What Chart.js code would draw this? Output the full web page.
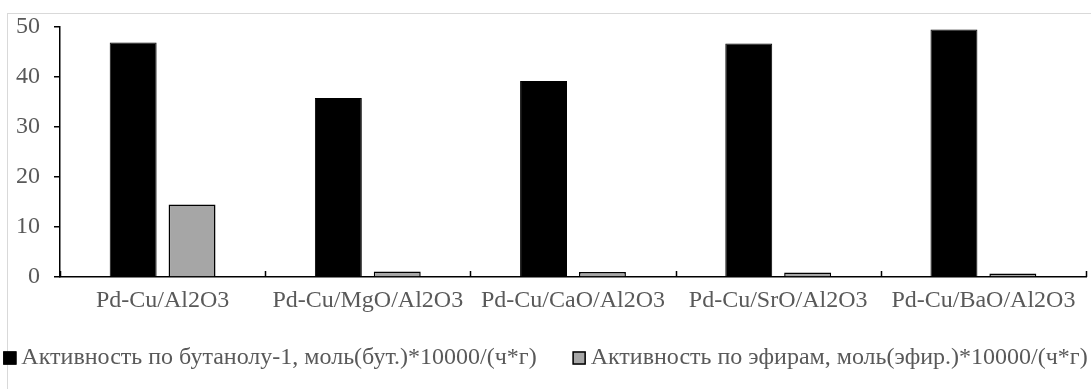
<!DOCTYPE html>
<html>
<head>
<meta charset="utf-8">
<script src="https://cdn.jsdelivr.net/npm/chart.js@4"></script>
<style>
    html, body { margin: 0; padding: 0; background: #fff; }
    #wrap { position: relative; width: 1091px; height: 389px; overflow: hidden; }
    #frame { position: absolute; left: 7px; top: 13px; width: 1100px; height: 400px; border: 1px solid #d9d9d9; box-sizing: border-box; }
    #chart { position: absolute; left: 0; top: 0; }
</style>
</head>
<body>
<div id="wrap">
    <div id="frame"></div>
    <canvas id="chart" width="1091" height="389"></canvas>
</div>
<script>
// --- Data ---
const categories = ['Pd-Cu/Al2O3', 'Pd-Cu/MgO/Al2O3', 'Pd-Cu/CaO/Al2O3', 'Pd-Cu/SrO/Al2O3', 'Pd-Cu/BaO/Al2O3'];
const butanolActivity = [46.9, 35.8, 39.2, 46.7, 49.5];
const etherActivity = [14.5, 1.1, 1.0, 0.9, 0.7];
const seriesLabels = [
    'Активность по бутанолу-1, моль(бут.)*10000/(ч*г)',
    'Активность по эфирам, моль(эфир.)*10000/(ч*г)'
];
const yTicks = [0, 10, 20, 30, 40, 50];

const textColor = '#595959';
const fontFamily = '"Liberation Serif", "Times New Roman", serif';
const fontSize = 24;

// upward tick marks between categories on the x axis
const categoryTicks = {
    id: 'categoryTicks',
    afterDatasetsDraw(chart) {
        const { ctx, scales: { x }, chartArea } = chart;
        const half = (x.getPixelForValue(1) - x.getPixelForValue(0)) / 2;
        ctx.save();
        ctx.strokeStyle = '#000';
        ctx.lineWidth = 1.5;
        ctx.beginPath();
        for (let i = 0; i <= categories.length; i++) {
            const px = Math.round(x.getPixelForValue(i) - half) + 0.5;
            ctx.moveTo(px, chartArea.bottom);
            ctx.lineTo(px, chartArea.bottom - 6);
        }
        ctx.stroke();
        ctx.restore();
    }
};

// one-line legend with tight box/text spacing, like the original
const bottomLegend = {
    id: 'bottomLegend',
    afterDraw(chart) {
        const { ctx, width } = chart;
        const box = 13, gap = 5, itemGap = 36, cy = 358;
        ctx.save();
        ctx.font = fontSize + 'px ' + fontFamily;
        ctx.textBaseline = 'middle';
        const items = chart.data.datasets.map(ds => ({ ds, w: ctx.measureText(ds.label).width }));
        const total = items.reduce((s, it) => s + box + gap + it.w, 0) + itemGap * (items.length - 1);
        let x = (width - total) / 2;
        items.forEach(({ ds, w }) => {
            ctx.fillStyle = ds.backgroundColor;
            ctx.strokeStyle = '#000';
            ctx.lineWidth = 1.5;
            ctx.fillRect(x, cy - box / 2, box, box);
            ctx.strokeRect(x + 0.5, cy - box / 2 + 0.5, box - 1, box - 1);
            ctx.fillStyle = textColor;
            ctx.fillText(ds.label, x + box + gap, cy);
            x += box + gap + w + itemGap;
        });
        ctx.restore();
    }
};

new Chart(document.getElementById('chart'), {
    type: 'bar',
    data: {
        labels: categories,
        datasets: [
            { label: seriesLabels[0], data: butanolActivity, backgroundColor: '#000', borderColor: '#000', borderWidth: 1 },
            { label: seriesLabels[1], data: etherActivity, backgroundColor: '#a6a6a6', borderColor: '#000', borderWidth: 1.5 }
        ]
    },
    options: {
        responsive: false,
        animation: false,
        categoryPercentage: 0.574,
        barPercentage: 0.797,
        layout: { padding: { left: 0, right: 5, top: 27, bottom: 55 } },
        plugins: {
            tooltip: { enabled: false },
            legend: { display: false }
        },
        scales: {
            x: {
                grid: { display: false },
                border: { color: '#000', width: 1.5 },
                ticks: { color: textColor, font: { family: fontFamily, size: fontSize }, padding: 1, maxRotation: 0 },
                afterFit: (scale) => { scale.height = 57; }
            },
            y: {
                min: 0,
                max: 50,
                afterBuildTicks: (scale) => { scale.ticks = yTicks.map(v => ({ value: v })); },
                grid: { drawOnChartArea: false, drawTicks: true, tickLength: 6, color: '#000', lineWidth: 1.5 },
                border: { color: '#000', width: 1.5 },
                ticks: { color: textColor, font: { family: fontFamily, size: fontSize }, padding: 14 },
                afterFit: (scale) => { scale.width = 60; scale.paddingTop = 0; scale.paddingBottom = 0; }
            }
        }
    },
    plugins: [categoryTicks, bottomLegend]
});
</script>
</body>
</html>
